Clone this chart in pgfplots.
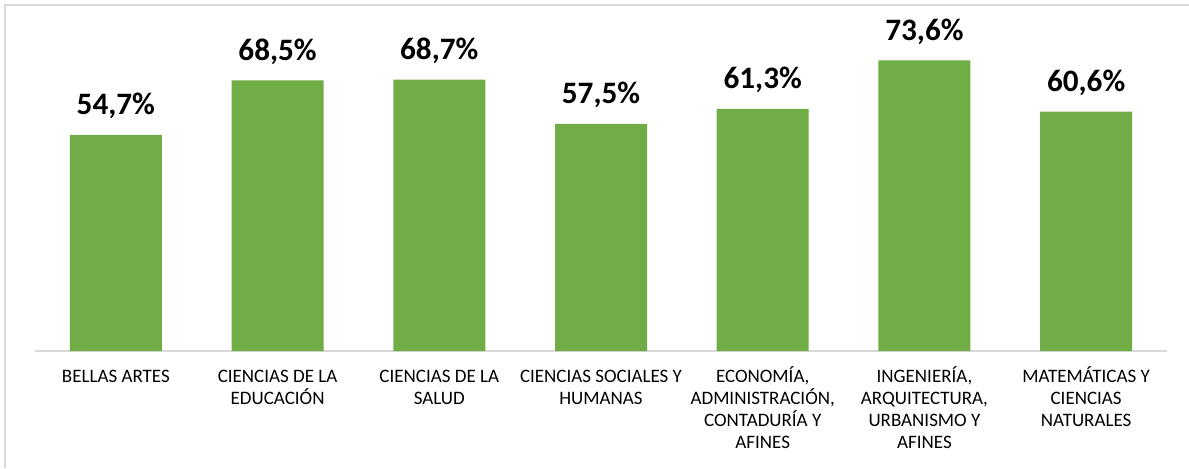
\documentclass[border=0pt]{standalone}
\usepackage{fontspec}
\setmainfont{Carlito}
\usepackage{pgfplots}
\pgfplotsset{compat=1.18}
\definecolor{barGreen}{HTML}{70AD47}
\definecolor{frameGray}{HTML}{D9D9D9}
\newcommand{\fl}{\vphantom{Í}}
\begin{document}
\begin{tikzpicture}
\useasboundingbox (0,0) rectangle (594.5pt,234pt);
\draw[frameGray, line width=1pt] (2.5pt,0) -- (2.5pt,231.5pt) -- (594.5pt,231.5pt);
\begin{axis}[
    at={(17.5pt,58.5pt)}, anchor=south west,
    scale only axis,
    width=566pt, height=165.5pt,
    ybar, bar width=46pt,
    xmin=-0.5, xmax=6.5, ymin=0, ymax=83.8,
    axis x line*=bottom, axis y line=none,
    axis line style={draw=frameGray, line width=0.75pt},
    xtick=data, major tick length=0pt,
    xticklabels={
        {\fl BELLAS ARTES},
        {\fl CIENCIAS DE LA\\EDUCACIÓN},
        {\fl CIENCIAS DE LA\\SALUD},
        {\fl CIENCIAS SOCIALES Y\\HUMANAS},
        {\fl ECONOMÍA,\\ADMINISTRACIÓN,\\CONTADURÍA Y\\AFINES},
        {\fl INGENIERÍA,\\ARQUITECTURA,\\URBANISMO Y\\AFINES},
        {\fl MATEMÁTICAS Y\\CIENCIAS\\NATURALES}},
    xticklabel style={anchor=north, align=center, inner sep=0pt, yshift=-7.4pt,
        font=\fontsize{9.5}{11.1}\selectfont},
    /pgf/number format/assume math mode=true,
    nodes near coords={\pgfmathprintnumber[fixed,fixed zerofill,precision=1,use comma]{\pgfplotspointmeta}\%},
    nodes near coords style={font=\fontsize{15.6}{18}\selectfont\bfseries, anchor=base, inner sep=0pt, yshift=10pt},
]
\addplot[fill=barGreen, draw=none] coordinates {
    (0,54.7) (1,68.5) (2,68.7) (3,57.5) (4,61.3) (5,73.6) (6,60.6)
};
\end{axis}
\end{tikzpicture}
\end{document}
